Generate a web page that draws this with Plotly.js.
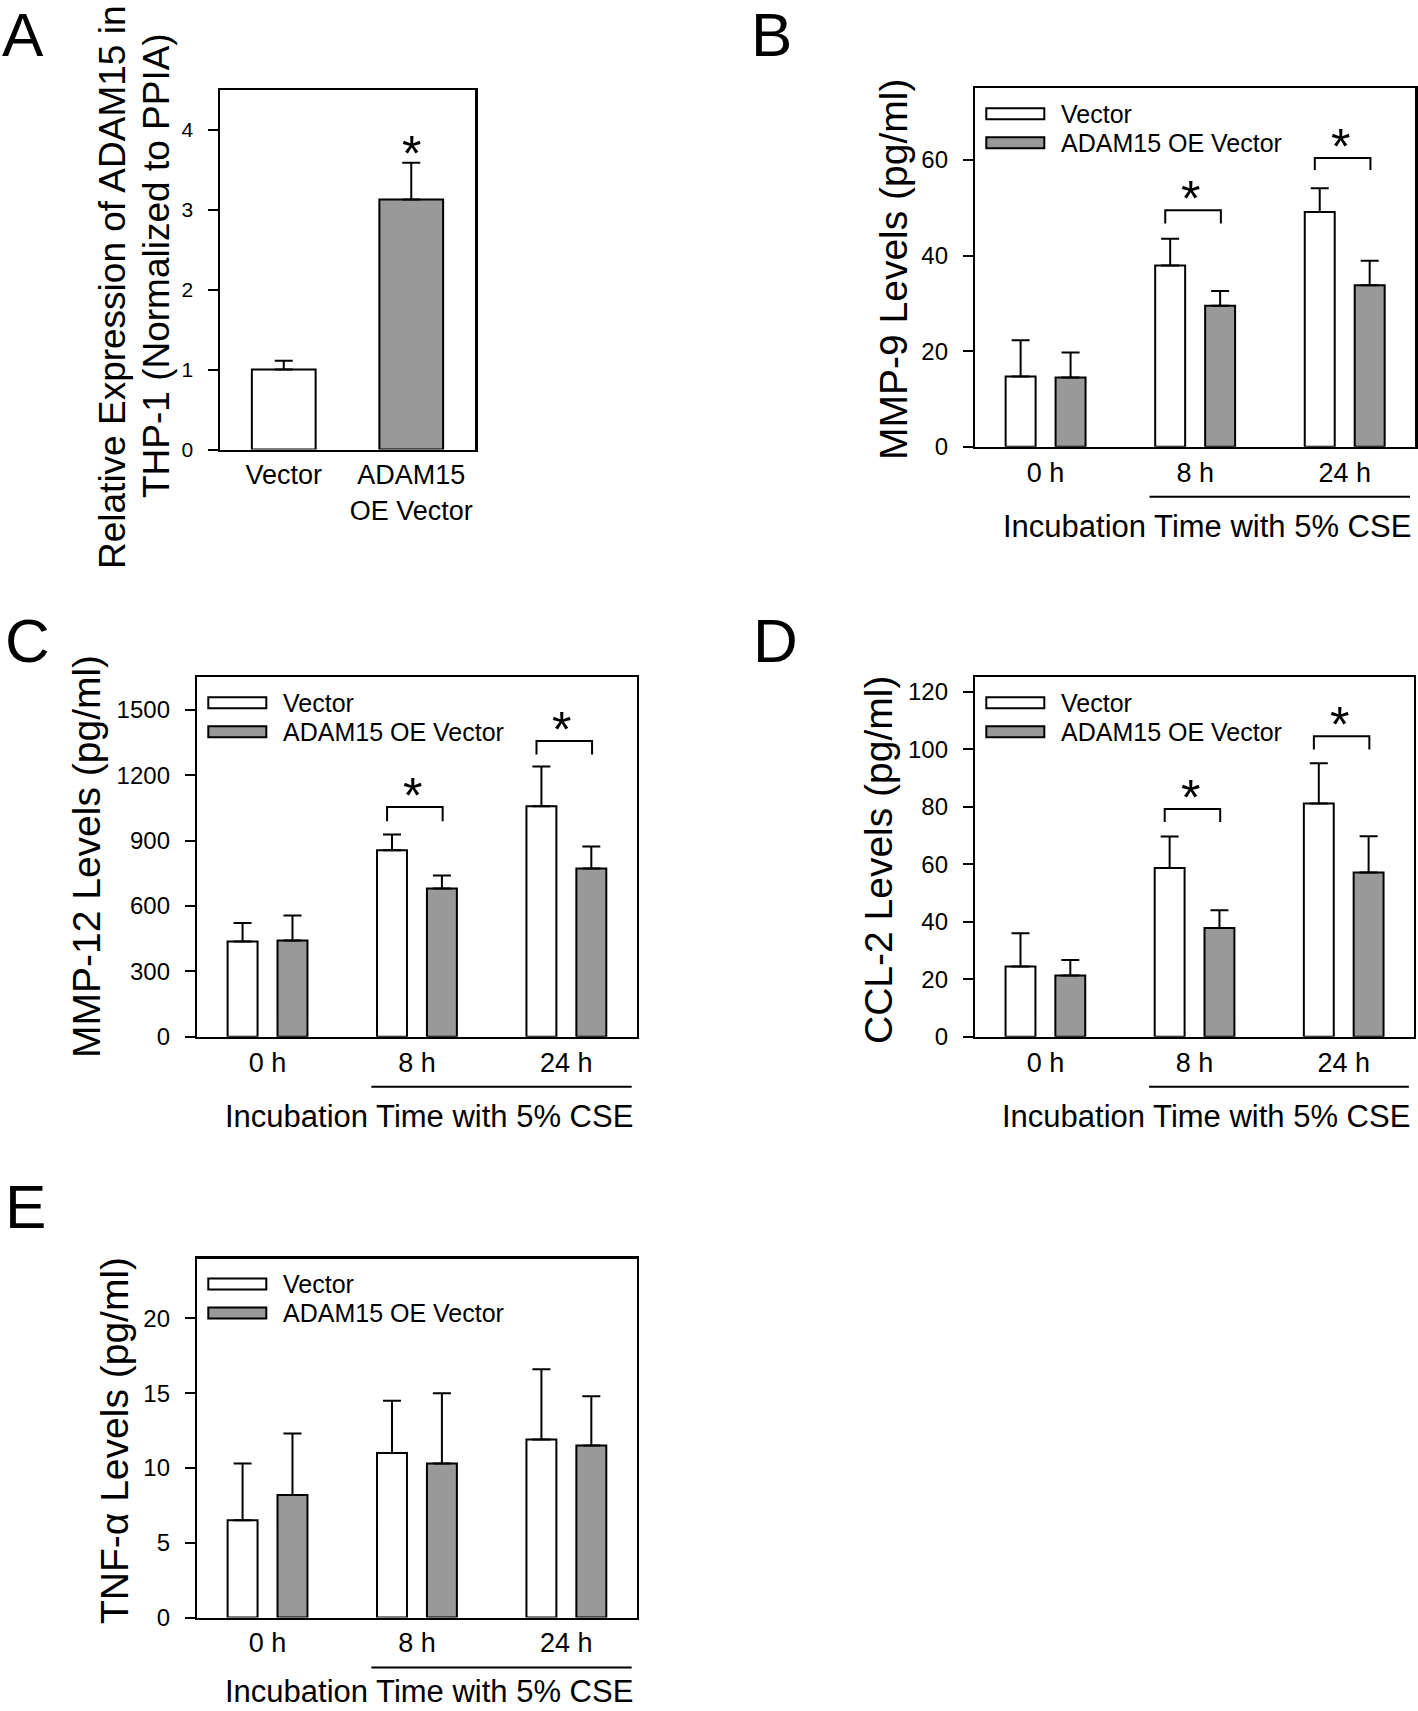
<!DOCTYPE html>
<html><head><meta charset="utf-8">
<script src="https://cdn.plot.ly/plotly-3.0.1.min.js"></script>
<style>html,body{margin:0;padding:0;background:#fff;} #chart{width:1418px;height:1711px;}</style>
</head><body><div id="chart"></div>
<script>
// ---------------- data ----------------
const timeLabels = ['0 h', '8 h', '24 h'];
const timeIndex = [0, 1, 2];
const aLabels = ['Vector', 'ADAM15<br>OE Vector'];
const aIndex = [0, 1];
const aValues = [1.00, 3.13];
const aErrors = [0.11, 0.46];

const mmp9Vector = [14.7, 37.9, 49.1];
const mmp9VectorErr = [7.6, 5.6, 5.0];
const mmp9Adam = [14.5, 29.5, 33.8];
const mmp9AdamErr = [5.2, 3.1, 5.1];

const mmp12Vector = [437, 856, 1058];
const mmp12VectorErr = [85, 72, 182];
const mmp12Adam = [442, 680, 772];
const mmp12AdamErr = [115, 60, 101];

const ccl2Vector = [24.4, 58.7, 81.1];
const ccl2VectorErr = [11.6, 10.9, 14.0];
const ccl2Adam = [21.3, 37.8, 57.1];
const ccl2AdamErr = [5.4, 6.2, 12.6];

const tnfVector = [6.5, 11.0, 11.9];
const tnfVectorErr = [3.8, 3.5, 4.7];
const tnfAdam = [8.2, 10.3, 11.5];
const tnfAdamErr = [4.1, 4.7, 3.3];

// significance brackets (group index, bracket top, leg bottom)
const mmp9SigGroup = [1, 2];
const mmp9SigTop = [49.5, 60.4];
const mmp9SigBase = [46.7, 57.9];
const mmp12SigGroup = [1, 2];
const mmp12SigTop = [1054, 1358];
const mmp12SigBase = [989, 1296];
const ccl2SigGroup = [1, 2];
const ccl2SigTop = [79.2, 104.5];
const ccl2SigBase = [74.7, 99.9];

const seriesNames = ['Vector', 'ADAM15 OE Vector'];
const seriesColors = ['#ffffff', '#999999'];

// ---------------- layout helpers ----------------
const W = 1418, H = 1711;
const FONT = '"Liberation Sans", Arial, Helvetica, sans-serif';
const px = x => x / W;
const py = y => 1 - y / H;

// plot boxes in pixels: [left, right, top, bottom]
const boxes = {
  A: [220, 475, 90, 449.5],
  B: [975.3, 1415, 88.3, 446.7],
  C: [197.3, 636.6, 677.3, 1036.7],
  D: [975.3, 1413.8, 677.3, 1036.7],
  E: [197.3, 636.6, 1258.6, 1617.5]
};

const data = [];
const annotations = [];
const shapes = [];
const layout = {
  width: W, height: H,
  margin: {l: 0, r: 0, t: 0, b: 0},
  paper_bgcolor: '#ffffff', plot_bgcolor: '#ffffff',
  font: {family: FONT, color: '#000'},
  showlegend: false,
  barmode: 'group', bargap: 0.332, bargroupgap: 0.4,
  annotations: annotations, shapes: shapes
};

function addAxes(n, key, xRange, tickvals, ticktext, yRange, ytickvals, ytickSize) {
  const b = boxes[key];
  const xs = n === 1 ? '' : String(n);
  layout['xaxis' + xs] = {
    domain: [px(b[0]), px(b[1])], anchor: 'y' + xs, range: xRange,
    tickmode: 'array', tickvals: tickvals, ticktext: ticktext,
    ticks: '', showline: true, mirror: true, linecolor: '#000', linewidth: 2.5,
    showgrid: false, zeroline: false, fixedrange: true,
    tickfont: {size: 27, family: FONT, color: '#000'}
  };
  layout['yaxis' + xs] = {
    domain: [py(b[3]), py(b[2])], anchor: 'x' + xs, range: yRange,
    tickmode: 'array', tickvals: ytickvals,
    ticks: 'outside', ticklen: 10, tickwidth: 2, tickcolor: '#000',
    showline: true, mirror: true, linecolor: '#000', linewidth: 2.5,
    showgrid: false, zeroline: false, fixedrange: true,
    ticklabelstandoff: 10,
    tickfont: {size: ytickSize, family: FONT, color: '#000'}
  };
}

function errBar(arr) {
  return {type: 'data', symmetric: false, array: arr, arrayminus: arr.map(() => 0),
          color: '#000', thickness: 2, width: 9, visible: true};
}

function addGroupedBars(n, vA, eA, vB, eB) {
  const xs = n === 1 ? '' : String(n);
  [[vA, eA], [vB, eB]].forEach((s, i) => {
    data.push({
      type: 'bar', name: seriesNames[i], x: timeIndex, y: s[0],
      xaxis: 'x' + xs, yaxis: 'y' + xs,
      marker: {color: seriesColors[i], line: {color: '#000', width: 2}},
      error_y: errBar(s[1]), hoverinfo: 'y'
    });
  });
}

const STAR_SIZE = 50;
function addBrackets(n, groups, tops, bases) {
  const xs = n === 1 ? '' : String(n);
  groups.forEach((g, i) => {
    data.push({
      type: 'scatter', mode: 'lines', xaxis: 'x' + xs, yaxis: 'y' + xs,
      x: [g - 0.2, g - 0.2, g + 0.172, g + 0.172],
      y: [bases[i], tops[i], tops[i], bases[i]],
      line: {color: '#000', width: 2}, hoverinfo: 'skip', cliponaxis: false
    });
    annotations.push({
      text: '*', xref: 'x' + xs, yref: 'y' + xs, x: g - 0.03, y: tops[i],
      xanchor: 'center', yanchor: 'middle', yshift: 11, showarrow: false,
      font: {size: STAR_SIZE, family: FONT, color: '#000'}
    });
  });
}

function addLegend(key) {
  const b = boxes[key];
  const rows = [[20, 31], [49, 60]];
  rows.forEach((r, i) => {
    shapes.push({type: 'rect', xref: 'paper', yref: 'paper',
      x0: px(b[0] + 11), x1: px(b[0] + 69), y0: py(b[2] + r[0]), y1: py(b[2] + r[1]),
      fillcolor: seriesColors[i], line: {color: '#000', width: 2}});
    annotations.push({text: seriesNames[i], xref: 'paper', yref: 'paper',
      x: px(b[0] + 84), y: py(b[2] + (r[0] + r[1]) / 2), xanchor: 'left', yanchor: 'middle',
      showarrow: false, font: {size: 25, family: FONT, color: '#000'}});
  });
}

function addIncubation(n, key, yOff) {
  const b = boxes[key];
  const xs = n === 1 ? '' : String(n);
  shapes.push({type: 'line', xref: 'x' + xs, yref: 'paper',
    x0: 1 - 0.305, x1: 2.437, y0: py(b[3] + 50), y1: py(b[3] + 50),
    line: {color: '#000', width: 2}});
  annotations.push({text: 'Incubation Time with 5% CSE', xref: 'paper', yref: 'paper',
    x: px(b[1] - 2), y: py(b[3] + yOff), xanchor: 'right', yanchor: 'middle',
    showarrow: false, font: {size: 31, family: FONT, color: '#000'}});
}

function addYTitle(text, cx, cy, size) {
  annotations.push({text: text, xref: 'paper', yref: 'paper', x: px(cx), y: py(cy),
    xanchor: 'center', yanchor: 'middle', textangle: -90, showarrow: false,
    font: {size: size, family: FONT, color: '#000'}});
}

function addLetter(text, x, y) {
  annotations.push({text: text, xref: 'paper', yref: 'paper', x: px(x), y: py(y),
    xanchor: 'left', yanchor: 'top', showarrow: false,
    font: {size: 62, family: FONT, color: '#000'}});
}

// ---------------- Panel A ----------------
addAxes(1, 'A', [-0.5, 1.5], aIndex, aLabels, [0, 4.5], [0, 1, 2, 3, 4], 21);
data.push({
  type: 'bar', x: aIndex, y: aValues, width: 0.5, xaxis: 'x', yaxis: 'y',
  marker: {color: seriesColors, line: {color: '#000', width: 2}},
  error_y: errBar(aErrors), hoverinfo: 'y'
});
annotations.push({text: '*', xref: 'x', yref: 'y', x: aIndex[1], y: aValues[1] + aErrors[1],
  xanchor: 'center', yanchor: 'middle', yshift: 9, showarrow: false,
  font: {size: STAR_SIZE, family: FONT, color: '#000'}});
addYTitle('Relative Expression of ADAM15 in', 113, 287, 37);
addYTitle('THP-1 (Normalized to PPIA)', 157, 266, 37);
addLetter('A', 0, -2);

// ---------------- Panel B ----------------
addAxes(2, 'B', [-0.47, 2.47], timeIndex, timeLabels, [0, 75], [0, 20, 40, 60], 24);
addGroupedBars(2, mmp9Vector, mmp9VectorErr, mmp9Adam, mmp9AdamErr);
addBrackets(2, mmp9SigGroup, mmp9SigTop, mmp9SigBase);
addLegend('B');
addIncubation(2, 'B', 80);
addYTitle('MMP-9 Levels (pg/ml)', 893, 270, 39);
addLetter('B', 749, -2);

// ---------------- Panel C ----------------
addAxes(3, 'C', [-0.47, 2.47], timeIndex, timeLabels, [0, 1650], [0, 300, 600, 900, 1200, 1500], 24);
addGroupedBars(3, mmp12Vector, mmp12VectorErr, mmp12Adam, mmp12AdamErr);
addBrackets(3, mmp12SigGroup, mmp12SigTop, mmp12SigBase);
addLegend('C');
addIncubation(3, 'C', 80);
addYTitle('MMP-12 Levels (pg/ml)', 86, 857, 39);
addLetter('C', 3, 604);

// ---------------- Panel D ----------------
addAxes(4, 'D', [-0.47, 2.47], timeIndex, timeLabels, [0, 125], [0, 20, 40, 60, 80, 100, 120], 24);
addGroupedBars(4, ccl2Vector, ccl2VectorErr, ccl2Adam, ccl2AdamErr);
addBrackets(4, ccl2SigGroup, ccl2SigTop, ccl2SigBase);
addLegend('D');
addIncubation(4, 'D', 80);
addYTitle('CCL-2 Levels (pg/ml)', 878, 860, 39);
addLetter('D', 751, 604);

// ---------------- Panel E ----------------
addAxes(5, 'E', [-0.47, 2.47], timeIndex, timeLabels, [0, 24], [0, 5, 10, 15, 20], 24);
addGroupedBars(5, tnfVector, tnfVectorErr, tnfAdam, tnfAdamErr);
addLegend('E');
addIncubation(5, 'E', 74);
addYTitle('TNF-α Levels (pg/ml)', 114, 1441, 39);
addLetter('E', 3, 1170);

Plotly.newPlot('chart', data, layout, {staticPlot: true, displayModeBar: false});
</script>
</body></html>
